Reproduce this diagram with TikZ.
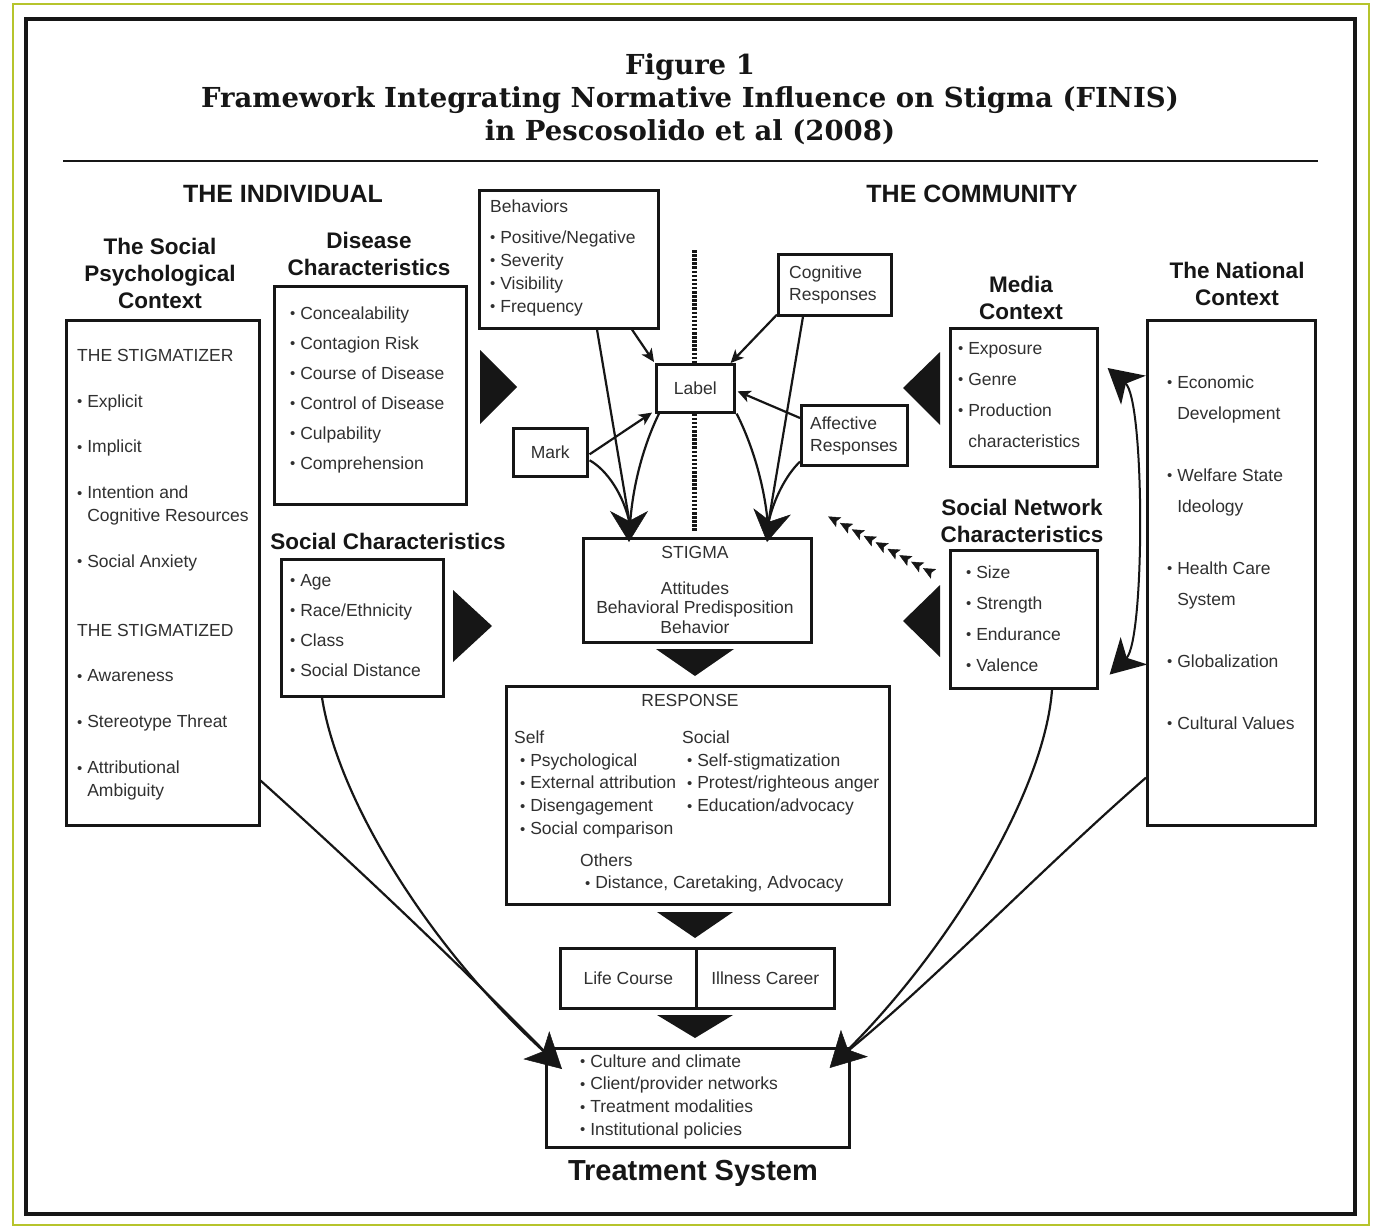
\documentclass[tikz,border=0pt]{standalone}
\usepackage{fontspec}
\setmainfont{Liberation Sans}
\newfontfamily\titlefont{DejaVu Serif}
\usetikzlibrary{arrows.meta,decorations.markings,calc}
\definecolor{frameGreen}{RGB}{182,196,44}
\definecolor{bodytxt}{RGB}{48,48,48}
\definecolor{ink}{RGB}{22,22,22}
\newcommand{\bul}{\raisebox{0.02em}{\scalebox{0.85}{•}}\hspace{0.28em}}
\newcommand{\ind}{\phantom{\bul}}
\newcommand{\fs}{\rule{0pt}{13pt}}
\begin{document}
\begin{tikzpicture}[x=1pt,y=-1pt,
  box/.style={draw=ink, line width=2.6pt, anchor=north west, inner sep=0pt, text=bodytxt, font=\fontsize{17.5}{21}\selectfont},
  body/.style={anchor=north west, inner sep=0pt, align=left, text=bodytxt},
  head/.style={inner sep=0pt, align=center, text=ink, font=\fontsize{22.5}{27}\selectfont\bfseries},
  bighead/.style={inner sep=0pt, text=ink, font=\fontsize{25}{28}\selectfont\bfseries},
  ttl/.style={inner sep=0pt, text=ink, font=\titlefont\fontsize{27.5}{32}\selectfont\bfseries},
  conn/.style={draw=ink, line width=2.2pt},
  smallarrow/.style={conn, -{Stealth[length=13pt,width=12pt,inset=3.5pt]}},
  bigtip/.style={draw=ink, line width=0.5pt, -{Stealth[length=31pt,width=38pt,inset=10pt]}},
  trtip/.style={draw=ink, line width=0.5pt, -{Stealth[length=35pt,width=38pt,inset=9pt]}},
  dblarrow/.style={conn, line width=2pt, {Stealth[length=34pt,width=38pt,inset=10pt]}-{Stealth[length=34pt,width=38pt,inset=10pt]}},
]
\useasboundingbox (0,0) rectangle (1376,1228);
\fill[white] (0,0) rectangle (1376,1228);
\draw[frameGreen, line width=2.2pt] (13,4) rectangle (1369,1225);
\draw[ink, line width=4.5pt] (26,19) rectangle (1355,1214);

% titles
\node[ttl] (t1) at (690,67) {Figure 1};
\node[ttl] (t2) at (690,100) {Framework Integrating Normative Influence on Stigma (FINIS)};
\node[ttl] (t3) at (690,132) {in Pescosolido et al (2008)};
\draw[ink, line width=2pt] (63,161) -- (1318,161);

% headings
\node[bighead] (hind) at (283,194) {THE INDIVIDUAL};
\node[bighead] (hcom) at (972,194) {THE COMMUNITY};
\node[head] (hsp) at (160,273) {The Social\\Psychological\\Context};
\node[head] (hdis) at (369,253.5) {Disease\\Characteristics};
\node[head] (hsoc) at (388,541) {Social Characteristics};
\node[head] (hmed) at (1021,297.5) {Media\\Context};
\node[head] (hnat) at (1237,283.5) {The National\\Context};
\node[head] (hsn) at (1022,520.5) {Social Network\\Characteristics};
\node[inner sep=0pt, text=ink, font=\fontsize{29}{32}\selectfont\bfseries] (htr) at (693,1173) {Treatment System};

% boxes
\node[box, minimum width=193pt, minimum height=505pt] (sp) at (65,319) {};
\node[box, minimum width=192pt, minimum height=218pt] (dis) at (273,285) {};
\node[box, minimum width=162pt, minimum height=137pt] (soc) at (280,558) {};
\node[box, minimum width=179pt, minimum height=138pt] (beh) at (478,189) {};
\node[box, minimum width=113pt, minimum height=61pt] (cog) at (777,253) {};
\node[box, minimum width=78pt, minimum height=48pt] (lab) at (655,363) {Label};
\node[box, minimum width=74pt, minimum height=48pt] (mark) at (512,427) {Mark};
\node[box, minimum width=106pt, minimum height=60pt] (aff) at (800,404) {};
\node[box, minimum width=147pt, minimum height=138pt] (med) at (949,327) {};
\node[box, minimum width=168pt, minimum height=505pt] (nat) at (1146,319) {};
\node[box, minimum width=147pt, minimum height=138pt] (sn) at (949,549) {};
\node[box, minimum width=228pt, minimum height=104pt] (stig) at (582,537) {};
\node[box, minimum width=383pt, minimum height=218pt] (resp) at (505,685) {};
\node[box, minimum width=136pt, minimum height=60pt] (lc) at (559,947) {Life Course};
\node[box, minimum width=138pt, minimum height=60pt] (ic) at (695,947) {Illness Career};
\node[box, minimum width=303pt, minimum height=99pt] (tr) at (545,1047) {};

% box texts
\node[body, font=\fontsize{17.5}{22.9}\selectfont] (sptx) at (77,348) {\fs THE STIGMATIZER\\[22.9pt]\bul Explicit\\[22.9pt]\bul Implicit\\[22.9pt]\bul Intention and\\\ind Cognitive Resources\\[22.9pt]\bul Social Anxiety\\[45.8pt]THE STIGMATIZED\\[22.9pt]\bul Awareness\\[22.9pt]\bul Stereotype Threat\\[22.9pt]\bul Attributional\\\ind Ambiguity};
\node[body, font=\fontsize{17.5}{30}\selectfont] (distx) at (290,306) {\fs\bul Concealability\\\bul Contagion Risk\\\bul Course of Disease\\\bul Control of Disease\\\bul Culpability\\\bul Comprehension};
\node[body, font=\fontsize{17.5}{30}\selectfont] (soctx) at (290,573) {\fs\bul Age\\\bul Race/Ethnicity\\\bul Class\\\bul Social Distance};
\node[body, font=\fontsize{17.5}{23}\selectfont] (behtx) at (490,199) {\fs Behaviors\\[8pt]\bul Positive/Negative\\\bul Severity\\\bul Visibility\\\bul Frequency};
\node[body, font=\fontsize{17.5}{22}\selectfont] (cogtx) at (789,265) {\fs Cognitive\\Responses};
\node[body, font=\fontsize{17.5}{22}\selectfont] (afftx) at (810,416) {\fs Affective\\Responses};
\node[body, font=\fontsize{17.5}{31}\selectfont] (medtx) at (958,341) {\fs\bul Exposure\\\bul Genre\\\bul Production\\\ind characteristics};
\node[body, font=\fontsize{17.5}{31}\selectfont] (nattx) at (1167,375) {\fs\bul Economic\\\ind Development\\[31pt]\bul Welfare State\\\ind Ideology\\[31pt]\bul Health Care\\\ind System\\[31pt]\bul Globalization\\[31pt]\bul Cultural Values};
\node[body, font=\fontsize{17.5}{31}\selectfont] (sntx) at (966,565) {\fs\bul Size\\\bul Strength\\\bul Endurance\\\bul Valence};
\node[body, align=center, anchor=north, font=\fontsize{17.5}{19.8}\selectfont] (stigtx) at (695,545) {\fs STIGMA\\[16pt]Attitudes\\Behavioral Predisposition\\Behavior};
\node[body, anchor=north, font=\fontsize{17.5}{21}\selectfont] (resptl) at (690,693) {\fs RESPONSE};
\node[body, font=\fontsize{17.5}{22.8}\selectfont] (selftx) at (514,730) {\fs Self\\\hspace*{6pt}\bul Psychological\\\hspace*{6pt}\bul External attribution\\\hspace*{6pt}\bul Disengagement\\\hspace*{6pt}\bul Social comparison};
\node[body, font=\fontsize{17.5}{22.8}\selectfont] (soctx2) at (682,730) {\fs Social\\\hspace*{5pt}\bul Self-stigmatization\\\hspace*{5pt}\bul Protest/righteous anger\\\hspace*{5pt}\bul Education/advocacy};
\node[body, font=\fontsize{17.5}{22.5}\selectfont] (othtx) at (580,853) {\fs Others\\\hspace*{5pt}\bul Distance, Caretaking, Advocacy};
\node[body, font=\fontsize{17.5}{22.7}\selectfont] (trtx) at (580,1054) {\fs\bul Culture and climate\\\bul Client/provider networks\\\bul Treatment modalities\\\bul Institutional policies};

% filled triangles
\fill[ink] (480,350) -- (480,424) -- (517,387) -- cycle;
\fill[ink] (453,590) -- (453,662) -- (492,626) -- cycle;
\fill[ink] (940,352) -- (940,425) -- (903,388) -- cycle;
\fill[ink] (940,585) -- (940,657) -- (903,621) -- cycle;
\fill[ink] (656,649) -- (734,649) -- (695,676) -- cycle;
\fill[ink] (657,912) -- (733,912) -- (695,938) -- cycle;
\fill[ink] (657,1015) -- (733,1015) -- (695,1038) -- cycle;

% dotted divider
\draw[ink, line width=5pt, dash pattern=on 2.5pt off 1.6pt] ($(lab.north)+(-1,-113)$) -- ($(lab.north)+(-1,0)$);
\draw[ink, line width=5pt, dash pattern=on 2.5pt off 1.6pt] ($(lab.south)+(-1,0)$) -- ($(lab.south)+(-1,117)$);

% arrows into Label
\draw[smallarrow] ($(beh.south west)+(154,0)$) -- ($(lab.north west)+(-1,-1)$);
\draw[smallarrow] ($(cog.south west)+(0,-2)$) -- ($(lab.north east)+(-5,0)$);
\draw[smallarrow] ($(aff.north west)+(0,14)$) -- ($(lab.east)+(2,3)$);
\draw[smallarrow] ($(mark.east)+(1,2)$) -- ($(lab.south west)+(-3,-1)$);

% convergence into STIGMA
\coordinate (tipL) at ($(stig.north west)+(47,5)$);
\coordinate (convL) at ($(stig.north west)+(48,-12)$);
\coordinate (tipR) at ($(stig.north west)+(185,5)$);
\coordinate (convR) at ($(stig.north west)+(186,-12)$);
\draw[conn] ($(beh.south west)+(119,0)$) -- (convL);
\draw[conn] ($(mark.east)+(1,8)$) .. controls (607,470) and (624,495) .. (convL);
\draw[conn] ($(lab.south west)+(4,0)$) .. controls (646,440) and (633,480) .. (convL);
\draw[conn] ($(lab.south east)+(1,0)$) .. controls (750,440) and (764,480) .. (convR);
\draw[conn] ($(cog.south west)+(26,0)$) -- (convR);
\draw[conn] ($(aff.south west)+(0,-5)$) .. controls (786,475) and (773,500) .. (convR);
\draw[bigtip] ($(tipL)+(0,-12)$) -- (tipL);
\draw[bigtip] ($(tipR)+(2,-12)$) -- (tipR);

% dotted chain of arrowheads (social network -> stigma)
\coordinate (chainS) at ($(sn.north west)+(-19,23)$);
\coordinate (chainE) at ($(stig.north east)+(11,-23)$);
\path[postaction={decorate}, decoration={markings, mark=between positions 8pt and 1 step 13.5pt with {\arrow[ink]{Stealth[length=12pt,width=11pt,inset=2.5pt]}}}] (chainS) -- (chainE);

% media <-> social network
\draw[dblarrow] ($(med.north east)+(9,41)$) .. controls (1145,400) and (1145,640) .. ($(sn.south east)+(11,-15)$);

% into treatment system
\coordinate (tipTL) at ($(tr.north west)+(17,22)$);
\coordinate (convTL) at ($(tipTL)+(-12,-12)$);
\coordinate (tipTR) at ($(tr.north east)+(-21,21)$);
\coordinate (convTR) at ($(tipTR)+(12,-12)$);
\draw[conn] ($(sp.south east)+(0,-46)$) .. controls (360,870) and (460,965) .. (convTL);
\draw[conn] ($(soc.south west)+(42,0)$) .. controls (338,800) and (430,950) .. (convTL);
\draw[conn] ($(sn.south west)+(103,0)$) .. controls (1045,790) and (950,950) .. (convTR);
\draw[conn] ($(nat.south west)+(0,-49)$) .. controls (1040,870) and (930,985) .. (convTR);
\draw[trtip] ($(tipTL)+(-14,-13)$) -- (tipTL);
\draw[trtip] ($(tipTR)+(14,-14)$) -- (tipTR);
\end{tikzpicture}
\end{document}
